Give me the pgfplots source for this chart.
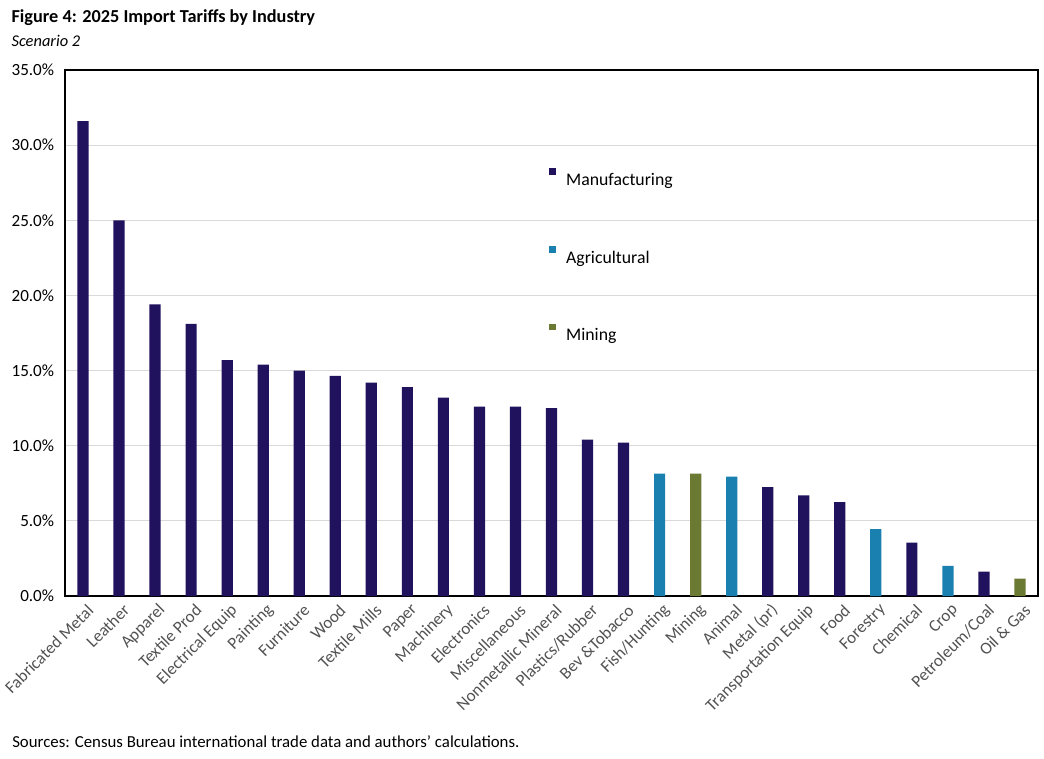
\documentclass[border=0pt]{standalone}
\usepackage{fontspec}
\setmainfont{Carlito}
\usepackage{pgfplots}
\pgfplotsset{compat=1.18}
\definecolor{manu}{HTML}{21125E}
\definecolor{agri}{HTML}{1A80B0}
\definecolor{mine}{HTML}{6A7A32}
\definecolor{gridc}{HTML}{D9D9D9}

\begin{document}
\begin{tikzpicture}[x=1pt,y=1pt]
\path[use as bounding box] (0,0) rectangle (783,568.5);
\node[anchor=west,font=\fontsize{13.7}{16}\selectfont\bfseries,inner sep=0pt] at (8.5,555.5) {Figure 4: 2025 Import Tariffs by Industry};
\node[anchor=west,font=\fontsize{12.3}{14}\selectfont\itshape,inner sep=0pt] at (8.5,538) {Scenario 2};
\node[anchor=west,font=\fontsize{12.6}{14}\selectfont,inner sep=0pt] at (9,12.5) {Sources: Census Bureau international trade data and authors' calculations.};
\begin{axis}[
  at={(48.75pt,121.5pt)}, anchor=south west,
  scale only axis,
  width=729.75pt, height=394.5pt,
  ybar, bar width=8.4pt, bar shift=0pt,
  xmin=-0.5, xmax=26.5,
  ymin=0, ymax=35,
  ytick={0,5,...,35},
  yticklabel={\pgfmathprintnumber[fixed,fixed zerofill,precision=1]{\tick}\%},
  /pgf/number format/assume math mode=true,
  yticklabel style={font=\fontsize{12.8}{15}\selectfont, xshift=-8pt, inner sep=0pt},
  xtick={0,...,26},
  xticklabels={Fabricated Metal, Leather, Apparel, Textile Prod, Electrical Equip, Painting, Furniture, Wood, Textile Mills, Paper, Machinery, Electronics, Miscellaneous, Nonmetallic Mineral, Plastics/Rubber, Bev \&Tobacco, Fish/Hunting, Mining, Animal, Metal (pr), Transportation Equip, Food, Forestry, Chemical, Crop, Petroleum/Coal, Oil \& Gas},
  xticklabel style={font=\fontsize{12.8}{15}\selectfont, rotate=45, anchor=east, inner sep=0pt, xshift=-2pt, yshift=-10pt, text=black!68},
  major tick length=0pt,
  ymajorgrids=true,
  grid style={gridc, line width=0.8pt},
  axis line style={black, line width=0.8pt},
  legend style={at={(0.497,0.814)}, anchor=north west, draw=none, fill=none,
    font=\fontsize{13.3}{15}\selectfont, row sep=42pt, inner sep=0pt,
    /tikz/every odd column/.append style={column sep=6pt}},
  legend cell align=left,
  legend image code/.code={\fill[#1] (0pt,4pt) rectangle (5pt,9pt);},
]
\addplot[fill=manu, draw=none] coordinates {
  (0,31.6) (1,25.0) (2,19.4) (3,18.1) (4,15.7) (5,15.4) (6,15.0) (7,14.65)
  (8,14.2) (9,13.9) (10,13.2) (11,12.6) (12,12.6) (13,12.5) (14,10.4) (15,10.2)
  (19,7.25) (20,6.7) (21,6.25) (23,3.55) (25,1.62)
};
\addlegendentry{Manufacturing}
\addplot[fill=agri, draw=none] coordinates {
  (16,8.15) (18,7.95) (22,4.45) (24,2.0)
};
\addlegendentry{Agricultural}
\addplot[fill=mine, draw=none] coordinates {
  (17,8.15) (26,1.15)
};
\addlegendentry{Mining}
\end{axis}
\end{tikzpicture}
\end{document}
